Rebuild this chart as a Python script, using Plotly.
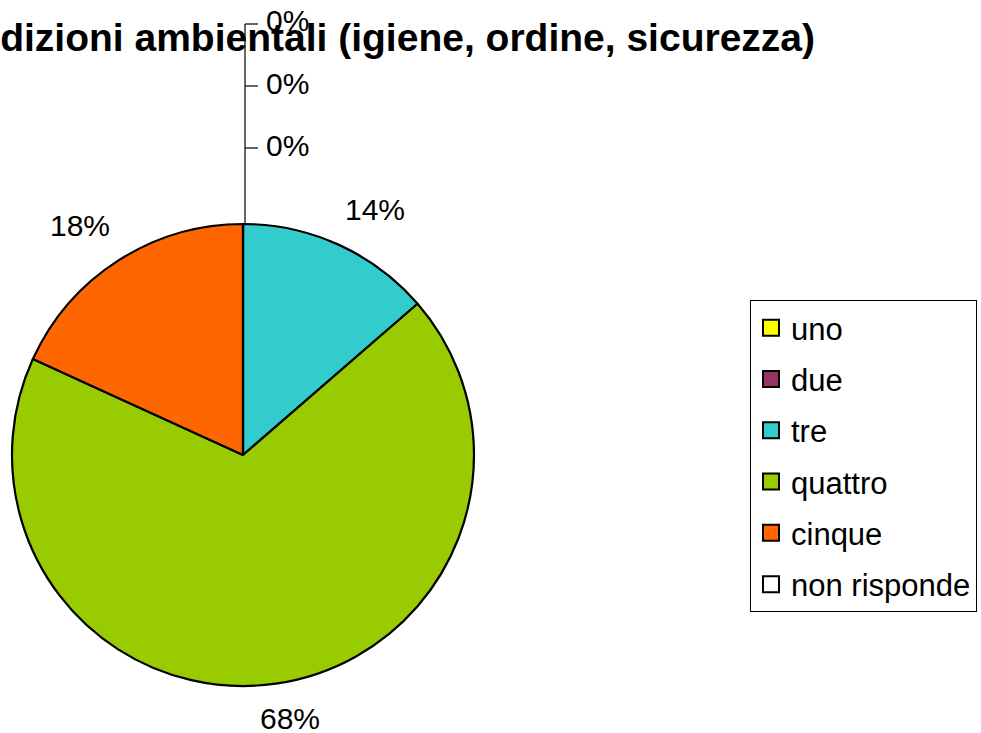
import plotly.graph_objects as go

W, H = 981, 733

title_text = "Condizioni ambientali (igiene, ordine, sicurezza)"
categories = ["uno", "due", "tre", "quattro", "cinque", "non risponde"]
counts = [0, 0, 3, 15, 4, 0]
colors = ["#FFFF00", "#993366", "#33CCCC", "#99CC00", "#FF6600", "#FFFFFF"]

total = sum(counts)
pcts = [c / total for c in counts]

FONT = "Arial, Liberation Sans, sans-serif"

def px(x):
    return x / W

def py(y):
    return 1 - y / H

fig = go.Figure()

fig.add_trace(go.Pie(
    labels=categories,
    values=counts,
    marker=dict(colors=colors, line=dict(color="black", width=2.2)),
    sort=False,
    direction="clockwise",
    rotation=0,
    textinfo="none",
    hoverinfo="label+percent",
    showlegend=False,
    domain=dict(x=[px(12), px(474)], y=[py(686), py(224)]),
))

# legend entries (one group per category so the gap between items matches)
for lab, col in zip(categories, colors):
    fig.add_trace(go.Scatter(
        x=[None], y=[None], mode="markers", name=lab, legendgroup=lab,
        marker=dict(symbol="square", size=16, color=col,
                    line=dict(color="black", width=2)),
        showlegend=True, hoverinfo="skip",
    ))

# percentage labels for the visible slices
label_pos = {"tre": (375, 209), "quattro": (290, 718), "cinque": (80, 225)}
annotations = []
for lab, p in zip(categories, pcts):
    if lab in label_pos:
        x, y = label_pos[lab]
        annotations.append(dict(x=px(x), y=py(y), xref="paper", yref="paper",
                                text=f"{p:.0%}", showarrow=False,
                                xanchor="center", yanchor="middle",
                                font=dict(family=FONT, size=30, color="black")))

# zero-value slices: stacked labels with leader lines at the top of the pie
zero_ys = [24, 86, 148]
zero_labels = [lab for lab, c in zip(categories, counts) if c == 0]
shapes = [dict(type="line", xref="paper", yref="paper",
               x0=px(245), x1=px(245), y0=py(24), y1=py(224),
               line=dict(color="black", width=1.2))]
for lab, yy in zip(zero_labels, zero_ys):
    p = pcts[categories.index(lab)]
    shapes.append(dict(type="line", xref="paper", yref="paper",
                       x0=px(245), x1=px(258), y0=py(yy), y1=py(yy),
                       line=dict(color="black", width=1.2)))
    annotations.append(dict(x=px(264), y=py(yy - 3), xref="paper", yref="paper",
                            text=f"{p:.0%}", showarrow=False,
                            xanchor="left", yanchor="middle",
                            font=dict(family=FONT, size=30, color="black")))

fig.update_layout(
    width=W, height=H,
    margin=dict(l=0, r=0, t=0, b=0),
    paper_bgcolor="white", plot_bgcolor="white",
    title=dict(text=f"<b>{title_text}</b>", xref="container", yref="container",
               x=px(815), xanchor="right", y=py(37), yanchor="middle",
               font=dict(family=FONT, size=39, color="black")),
    xaxis=dict(visible=False), yaxis=dict(visible=False),
    legend=dict(x=px(750), y=py(300), xanchor="left", yanchor="top",
                bordercolor="black", borderwidth=1, bgcolor="white",
                font=dict(family=FONT, size=31, color="black"),
                traceorder="grouped", tracegroupgap=8.0),
    annotations=annotations,
    shapes=shapes,
)

fig.write_html("out.html",
               config={"displayModeBar": False},
               post_script="document.body.style.margin='0';document.body.style.overflow='hidden';")
